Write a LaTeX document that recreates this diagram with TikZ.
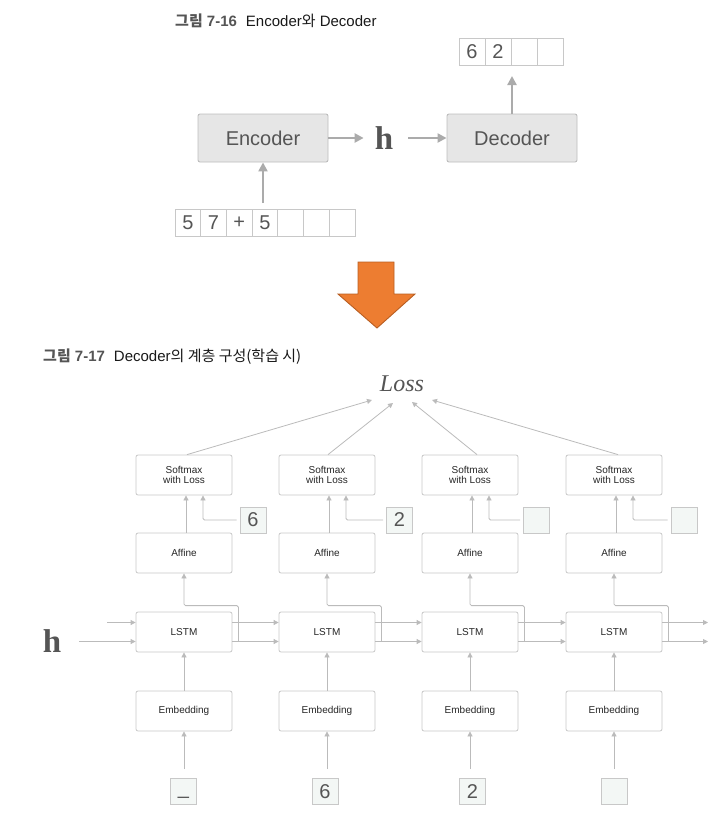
\documentclass[tikz,border=0pt]{standalone}
\usepackage{fontspec}
\usetikzlibrary{arrows.meta,calc}
\newfontfamily\hel{Liberation Sans}
\newfontfamily\kr{Noto Sans CJK KR}
\newfontfamily\serifb{Liberation Serif}
\newcommand{\K}[1]{{\kr #1}}
\definecolor{txtgray}{HTML}{555555}
\definecolor{boxfill}{HTML}{E6E6E6}
\definecolor{boxline}{HTML}{BDBDBD}
\definecolor{bigline}{HTML}{ABABAB}
\definecolor{thinline}{HTML}{BBBBBB}
\definecolor{cellline}{HTML}{C8C8C8}
\definecolor{tokfill}{HTML}{F3F7F5}
\definecolor{orangefill}{HTML}{ED7D31}
\definecolor{orangeline}{HTML}{B85E22}
\tikzset{
  bigbox/.style={draw=boxline, fill=boxfill, line width=0.9pt, rounded corners=2pt,
    minimum width=130pt, minimum height=48pt, font=\hel\fontsize{20}{24}\selectfont, text=txtgray},
  bigarr/.style={draw=bigline, line width=2.6pt, -{Triangle[length=9pt,width=9pt]}},
  cell/.style={draw=cellline, line width=0.7pt, minimum width=25.7pt, minimum height=27pt,
    inner sep=0pt, font=\hel\fontsize{20}{24}\selectfont, text=txtgray},
  layer/.style={draw=cellline, fill=white, line width=0.8pt, rounded corners=2pt,
    minimum width=96pt, minimum height=40pt, inner sep=0pt, align=center,
    font=\hel\fontsize{10}{10.5}\selectfont, text=black!85},
  token/.style={draw=cellline, fill=tokfill, line width=0.7pt, minimum size=26pt,
    inner sep=0pt, font=\hel\fontsize{20}{24}\selectfont, text=txtgray},
  arr/.style={draw=thinline, line width=0.8pt, -{Triangle[length=5pt,width=5pt]}},
  hvar/.style={font=\serifb\bfseries\fontsize{33}{36}\selectfont, text=txtgray, inner sep=0pt},
  title/.style={anchor=west, inner sep=0pt, font=\hel\fontsize{15}{17}\selectfont, text=black!90}
}
\begin{document}
\begin{tikzpicture}[x=1pt,y=-1pt]
\useasboundingbox (0,0) rectangle (723,814);

% ---------- Encoder / Decoder overview ----------
\node[title] (t16) at (175,21) {{\bfseries\color{txtgray}\K{그림} 7-16}\hspace{0.6em}Encoder\K{와} Decoder};

\node[bigbox] (enc) at (263,138) {Encoder};
\node[bigbox] (dec) at (512,138) {Decoder};
\node[hvar] (htop) at (384,138) {h};

\foreach \i/\t in {0/5,1/7,2/+,3/5,4/,5/,6/}
  \node[cell] (in\i) at ({175+25.7*(\i+0.5)},222.5) {\t};
\foreach \i/\t in {0/6,1/2,2/,3/}
  \node[cell, minimum width=26pt] (out\i) at ({459+26*(\i+0.5)},51.5) {\t};

\coordinate (encin) at (263,203);
\coordinate (decout) at (512,76);
\draw[bigarr] (encin) -- (enc.south);
\draw[bigarr] (enc.east) -- ([xshift=-11pt]htop.west);
\draw[bigarr] ([xshift=15pt]htop.east) -- (dec.west);
\draw[bigarr] (dec.north) -- (decout);

% ---------- transition arrow ----------
\draw[fill=orangefill, draw=orangeline, line width=0.9pt]
  (358,262) -- (394,262) -- (394,294) -- (415,294) -- (377,328) -- (338,294) -- (358,294) -- cycle;

% ---------- Decoder layers during training ----------
\node[title] (t17) at (43,357) {{\bfseries\color{txtgray}\K{그림} 7-17}\hspace{0.6em}Decoder\K{의 계층 구성(학습 시)}};

\node[font=\serifb\itshape\fontsize{24}{26}\selectfont, text=txtgray, inner sep=0pt] (loss) at (402,384) {Loss};
\node[hvar] (hleft) at (52,641) {h};

\foreach \n/\cx/\lx/\tok in {1/184/183.5/{\vphantom{6}\raisebox{4pt}{\char95}},2/327/325/6,3/470/472.5/2,4/614/614/{}} {
  \node[layer] (sm\n) at (\cx,475) {Softmax\\with Loss};
  \node[layer] (af\n) at (\cx,553) {Affine};
  \node[layer] (ls\n) at (\cx,632) {LSTM};
  \node[layer] (em\n) at (\cx,711) {Embedding};
  \node[token] (x\n) at (\lx,791.5) {\tok};
}
\foreach \n/\tx/\t in {1/253/6,2/399.5/2,3/536.5/,4/684/}
  \node[token] (tg\n) at (\tx,520) {\t};

% loss arrows
\coordinate (lp1) at (372,400);
\coordinate (lp2) at (393,403);
\coordinate (lp3) at (412,402);
\coordinate (lp4) at (432,400);
\draw[arr] ([xshift=3pt]sm1.north) -- (lp1);
\draw[arr] ([xshift=1pt]sm2.north) -- (lp2);
\draw[arr] ([xshift=7pt]sm3.north) -- (lp3);
\draw[arr] ([xshift=4pt]sm4.north) -- (lp4);

\foreach \n in {1,2,3,4} {
  % affine -> softmax, teacher label -> softmax
  \draw[arr] ([xshift=2pt]af\n.north) -- ([xshift=2pt]sm\n.south);
  \draw[arr, rounded corners=1.5pt, shorten <=3pt] (tg\n.west) -| ([xshift=19pt]sm\n.south);
  % lstm hidden state -> affine
  \draw[arr, rounded corners=1.5pt] ([xshift=6pt,yshift=-9.5pt]ls\n.east)
    -- ([xshift=6pt,yshift=6pt]ls\n.north east) -| (af\n.south);
  % embedding -> lstm, token -> embedding
  \draw[arr] (em\n.north) -- (ls\n.south);
  \draw[arr] ($(em\n.south |- x\n.north)+(0,-9)$) -- (em\n.south);
}

% recurrent connections
\coordinate (cin) at (107,622.5);
\coordinate (hin) at (79,641.5);
\coordinate (cout) at (708,622.5);
\coordinate (hout) at (708,641.5);
\draw[arr] (cin) -- ([yshift=9.5pt]ls1.west);
\draw[arr] (hin) -- ([yshift=-9.5pt]ls1.west);
\foreach \a/\b in {1/2,2/3,3/4} {
  \draw[arr] ([yshift=9.5pt]ls\a.east) -- ([yshift=9.5pt]ls\b.west);
  \draw[arr] ([yshift=-9.5pt]ls\a.east) -- ([yshift=-9.5pt]ls\b.west);
}
\draw[arr] ([yshift=9.5pt]ls4.east) -- (cout);
\draw[arr] ([yshift=-9.5pt]ls4.east) -- (hout);
\end{tikzpicture}
\end{document}
